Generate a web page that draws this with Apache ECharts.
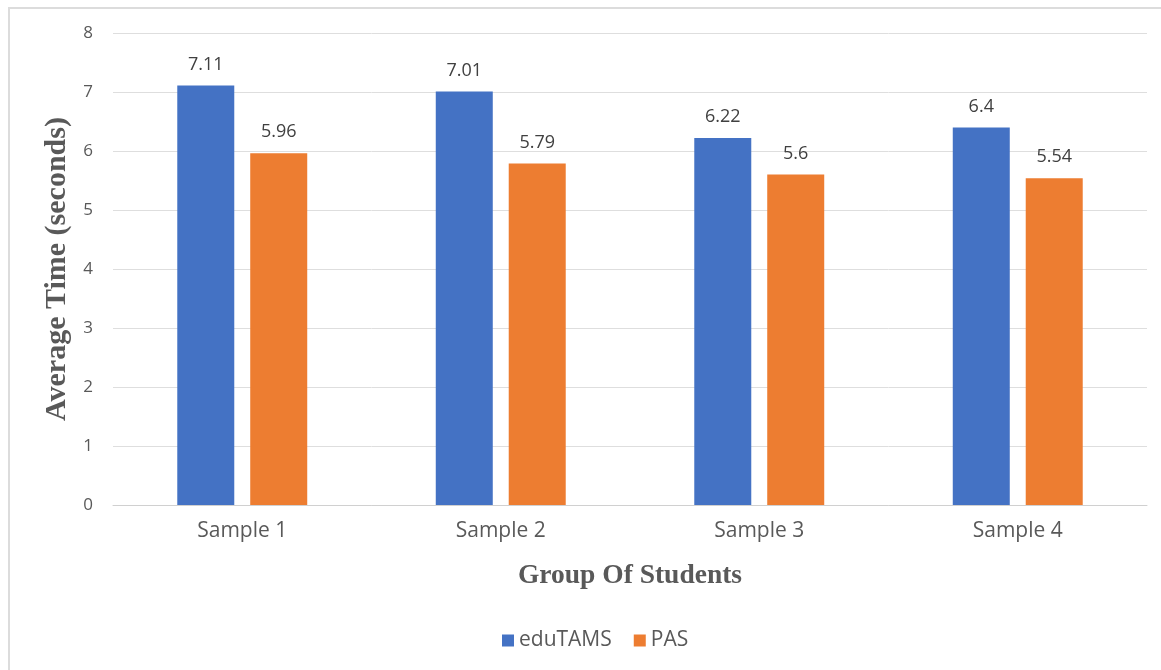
<!DOCTYPE html>
<html>
<head>
<meta charset="utf-8">
<script src="https://cdn.jsdelivr.net/npm/echarts@6/dist/echarts.min.js"></script>
<style>
  html, body { margin: 0; padding: 0; background: #fff; }
  #frame { position: absolute; left: 8px; top: 7px; width: 1170px; height: 680px; border: 2px solid #dcdcdc; box-sizing: border-box; }
  #chart { position: absolute; left: 0; top: 0; width: 1161px; height: 670px; }
</style>
</head>
<body>
<div id="frame"></div>
<div id="chart"></div>
<script>
const categories = ['Sample 1', 'Sample 2', 'Sample 3', 'Sample 4'];
const eduTAMS = [7.11, 7.01, 6.22, 6.4];
const pas = [5.96, 5.79, 5.6, 5.54];
const yTicks = [0, 1, 2, 3, 4, 5, 6, 7, 8];

const chart = echarts.init(document.getElementById('chart'), null, { renderer: 'canvas' });

const sans = 'Open Sans, Liberation Sans, sans-serif';
const serif = 'Liberation Serif, Times New Roman, serif';

const labelStyle = {
  show: true,
  position: 'top',
  distance: 12,
  color: '#404040',
  fontSize: 18,
  fontFamily: sans
};

chart.setOption({
  animation: false,
  backgroundColor: 'transparent',
  grid: { left: 113, right: 14, top: 33, bottom: 165 },
  legend: {
    top: 625,
    left: 497,
    itemWidth: 12,
    itemHeight: 12,
    itemGap: 22,
    icon: 'rect',
    textStyle: { color: '#595959', fontSize: 21, fontFamily: sans },
    data: ['eduTAMS', 'PAS']
  },
  xAxis: {
    type: 'category',
    data: categories,
    name: 'Group Of Students',
    nameLocation: 'middle',
    nameGap: 57,
    nameTextStyle: { color: '#595959', fontSize: 27.5, fontWeight: 'bold', fontFamily: serif },
    axisLine: { lineStyle: { color: '#d0d0d0', width: 1 } },
    axisTick: { show: false },
    axisLabel: { color: '#595959', fontSize: 21, margin: 16, fontFamily: sans }
  },
  yAxis: {
    type: 'value',
    min: yTicks[0],
    max: yTicks[yTicks.length - 1],
    interval: 1,
    name: 'Average Time (seconds)',
    nameLocation: 'middle',
    nameGap: 40,
    nameTextStyle: { color: '#595959', fontSize: 30, fontWeight: 'bold', fontFamily: serif },
    axisLine: { show: false },
    axisTick: { show: false },
    axisLabel: { color: '#595959', fontSize: 17, margin: 20, fontFamily: sans },
    splitLine: { lineStyle: { color: '#dedede', width: 1 } }
  },
  series: [
    {
      name: 'eduTAMS',
      type: 'bar',
      data: eduTAMS,
      barWidth: 57,
      barGap: '28%',
      itemStyle: { color: '#4472C4' },
      label: labelStyle
    },
    {
      name: 'PAS',
      type: 'bar',
      data: pas,
      barWidth: 57,
      itemStyle: { color: '#ED7D31' },
      label: labelStyle
    }
  ]
});
</script>
</body>
</html>
